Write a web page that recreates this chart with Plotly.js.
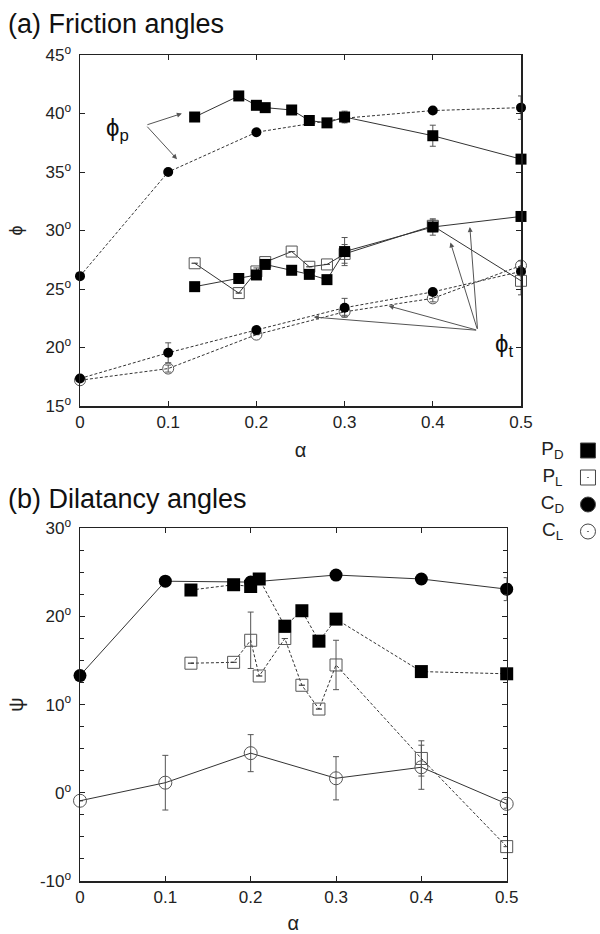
<!DOCTYPE html>
<html>
<head>
<meta charset="utf-8">
<script src="https://cdn.plot.ly/plotly-3.0.1.min.js"></script>
<style>html,body{margin:0;padding:0;background:#fff}#chart{width:600px;height:934px}</style>
</head>
<body>
<div id="chart"></div>
<script>
// ---- data ----
const alphaC = [0, 0.1, 0.2, 0.3, 0.4, 0.5];
const alphaP = [0.13, 0.18, 0.2, 0.21, 0.24, 0.26, 0.28, 0.3, 0.4, 0.5];
const alphaTicks = [0, 0.1, 0.2, 0.3, 0.4, 0.5];
const alphaTickText = ['0', '0.1', '0.2', '0.3', '0.4', '0.5'];

// (a) friction angles
const phiP_PD = [39.7, 41.5, 40.7, 40.5, 40.3, 39.4, 39.2, 39.7, 38.1, 36.1];
const phiP_PD_err = [0, 0, 0.3, 0, 0, 0, 0, 0.5, 0.9, 0];
const phiP_CD = [26.1, 35.0, 38.4, 39.6, 40.25, 40.5];
const phiP_CD_err = [0, 0, 0, 0, 0, 1.0];
const phiT_PD = [25.2, 25.9, 26.2, 27.1, 26.6, 26.25, 25.8, 28.2, 30.3, 31.2];
const phiT_PD_err = [0, 0, 0, 0, 0, 0, 0, 1.2, 0.7, 0];
const phiT_PL = [27.2, 24.65, 26.5, 27.3, 28.2, 26.9, 27.1, 28.0, 30.4, 25.7];
const phiT_PL_err = [0, 0, 0.3, 0, 0, 0, 0, 0.8, 0.5, 1.2];
const phiT_CD = [17.35, 19.55, 21.5, 23.4, 24.75, 26.5];
const phiT_CD_err = [0, 0.85, 0, 0.8, 0, 0];
const phiT_CL = [17.2, 18.2, 21.1, 23.05, 24.2, 27.0];
const phiT_CL_err = [0, 0.3, 0, 0.3, 0.3, 0.4];
const phiTicks = [15, 20, 25, 30, 35, 40, 45];
const phiTickText = ['15<sup>o</sup>', '20<sup>o</sup>', '25<sup>o</sup>', '30<sup>o</sup>', '35<sup>o</sup>', '40<sup>o</sup>', '45<sup>o</sup>'];

// (b) dilatancy angles
const psi_CD = [13.3, 24.0, 23.9, 24.7, 24.25, 23.1];
const psi_CD_err = [0, 0, 0, 0, 0, 1.3];
const psi_PD = [23.0, 23.6, 23.4, 24.25, 18.9, 20.65, 17.2, 19.7, 13.75, 13.5];
const psi_PL = [14.7, 14.8, 17.3, 13.25, 17.5, 12.2, 9.5, 14.5, 3.9, -6.1];
const psi_PL_err = [0, 0, 3.2, 0, 0, 0, 0, 2.8, 2.0, 0];
const psi_CL = [-0.9, 1.15, 4.5, 1.65, 2.9, -1.25];
const psi_CL_err = [0, 3.1, 2.1, 2.45, 2.5, 0.5];
const psiTicks = [-10, 0, 10, 20, 30];
const psiTickText = ['-10<sup>o</sup>', '0<sup>o</sup>', '10<sup>o</sup>', '20<sup>o</sup>', '30<sup>o</sup>'];

// legend
const legendLabels = ['P<sub>D</sub>', 'P<sub>L</sub>', 'C<sub>D</sub>', 'C<sub>L</sub>'];
const legendSymbols = ['square', 'square-open-dot', 'circle', 'circle-open-dot'];
const legendRows = [4, 3, 2, 1];

// ---- styles ----
const FONT = 'Liberation Sans, Arial, Helvetica, sans-serif';
const LINE = '#333';
const OPEN = '#555';
function errs(a) { return {type: 'data', array: a, visible: true, color: '#555', thickness: 1, width: 3}; }
function tr(x, y, e, opts) {
  return Object.assign({
    x: x, y: y, type: 'scatter', mode: 'lines+markers', cliponaxis: false, showlegend: false,
    error_y: errs(e), hoverinfo: 'skip'
  }, opts);
}
const solid = {color: LINE, width: 1};
const dashed = {color: LINE, width: 1, dash: '3px,2px'};

const traces = [
  // (a)
  tr(alphaC, phiP_CD, phiP_CD_err, {line: dashed, marker: {symbol: 'circle', size: 10, color: '#000'}}),
  tr(alphaP, phiP_PD, phiP_PD_err, {line: solid, marker: {symbol: 'square', size: 11, color: '#000'}}),
  tr(alphaC, phiT_CL, phiT_CL_err, {line: dashed, marker: {symbol: 'circle-open', size: 11, color: OPEN, line: {width: 1}}}),
  tr(alphaC, phiT_CD, phiT_CD_err, {line: dashed, marker: {symbol: 'circle', size: 10, color: '#000'}}),
  tr(alphaP, phiT_PL, phiT_PL_err, {line: solid, marker: {symbol: 'square-open', size: 11, color: OPEN, line: {width: 1}}}),
  tr(alphaP, phiT_PD, phiT_PD_err, {line: solid, marker: {symbol: 'square', size: 11, color: '#000'}}),
  // (b)
  Object.assign(tr(alphaC, psi_CL, psi_CL_err, {line: solid, marker: {symbol: 'circle-open', size: 13, color: OPEN, line: {width: 1}}}), {xaxis: 'x2', yaxis: 'y2'}),
  Object.assign(tr(alphaP, psi_PL, psi_PL_err, {line: dashed, marker: {symbol: 'square-open', size: 12, color: OPEN, line: {width: 1}}}), {xaxis: 'x2', yaxis: 'y2'}),
  Object.assign(tr(alphaC, psi_CD, psi_CD_err, {line: solid, marker: {symbol: 'circle', size: 13, color: '#000'}}), {xaxis: 'x2', yaxis: 'y2'}),
  Object.assign(tr(alphaP, psi_PD, psi_PD.map(() => 0), {line: dashed, marker: {symbol: 'square', size: 13, color: '#000'}}), {xaxis: 'x2', yaxis: 'y2'}),
  // legend
  {x: legendRows.map(() => 0.833), y: legendRows, type: 'scatter', mode: 'markers', xaxis: 'x3', yaxis: 'y3', showlegend: false, hoverinfo: 'skip', cliponaxis: false,
   marker: {symbol: legendSymbols, size: 15, color: ['#000', '#444', '#000', '#444'], line: {width: 1, color: '#444'}}},
  {x: legendRows.map(() => 0.34), y: legendRows, type: 'scatter', mode: 'text', text: legendLabels, textposition: 'middle center', xaxis: 'x3', yaxis: 'y3', showlegend: false, hoverinfo: 'skip', cliponaxis: false,
   textfont: {family: FONT, size: 19, color: '#222'}}
];

function xax(domain, anchor) {
  return {domain: domain, anchor: anchor, range: [0, 0.5], tickvals: alphaTicks, ticktext: alphaTickText,
    ticks: 'inside', ticklen: 5, tickcolor: '#222', mirror: 'allticks', showline: true, linewidth: 1.5, linecolor: '#222',
    showgrid: false, zeroline: false, tickfont: {family: FONT, size: 17, color: '#222'},
    title: {text: 'α', font: {family: FONT, size: 20, color: '#222'}, standoff: 12}};
}
function yTickFont() { return {family: FONT, size: 17, color: '#222'}; }
const layout = {
  width: 600, height: 934, margin: {l: 0, r: 0, t: 0, b: 0}, paper_bgcolor: '#fff', plot_bgcolor: 'rgba(0,0,0,0)',
  showlegend: false, font: {family: FONT, color: '#222'},
  xaxis: xax([80 / 600, 521 / 600], 'y'),
  yaxis: {domain: [1 - 406 / 934, 1 - 55 / 934], anchor: 'x', range: [15, 45], tickvals: phiTicks, ticktext: phiTickText,
    ticks: 'inside', ticklen: 5, tickcolor: '#222', mirror: 'allticks', showline: true, linewidth: 1.5, linecolor: '#222',
    showgrid: false, zeroline: false, tickfont: yTickFont(), ticklabelstandoff: 4,
    title: {text: 'ϕ', font: {family: FONT, size: 18, color: '#222'}, standoff: 18}},
  xaxis2: xax([80 / 600, 506.7 / 600], 'y2'),
  yaxis2: {domain: [1 - 881 / 934, 1 - 528.3 / 934], anchor: 'x2', range: [-10, 30], tickvals: psiTicks, ticktext: psiTickText,
    ticks: 'inside', ticklen: 5, tickcolor: '#222', mirror: 'allticks', showline: true, linewidth: 1.5, linecolor: '#222',
    minor: {dtick: 2.5, ticks: 'inside', ticklen: 4, tickcolor: '#222'},
    showgrid: false, zeroline: false, tickfont: yTickFont(), ticklabelstandoff: 4,
    title: {text: 'ψ', font: {family: FONT, size: 20, color: '#222'}, standoff: 11}},
  xaxis3: {domain: [528 / 600, 1], anchor: 'y3', range: [0, 1], visible: false, fixedrange: true},
  yaxis3: {domain: [1 - 545 / 934, 1 - 437 / 934], anchor: 'x3', range: [0.5, 4.5], visible: false, fixedrange: true},
  annotations: [
    {xref: 'paper', yref: 'paper', x: 6 / 600, y: 1 - 24 / 934, xanchor: 'left', yanchor: 'middle', showarrow: false,
     text: '(a) Friction angles', font: {family: FONT, size: 27, color: '#111'}},
    {xref: 'paper', yref: 'paper', x: 6 / 600, y: 1 - 499 / 934, xanchor: 'left', yanchor: 'middle', showarrow: false,
     text: '(b) Dilatancy angles', font: {family: FONT, size: 27, color: '#111'}},
    {xref: 'x', yref: 'y', x: 0.043, y: 38.6, showarrow: false, text: 'ϕ<sub>p</sub>', font: {family: FONT, size: 24, color: '#111'}},
    {xref: 'x', yref: 'y', x: 0.1155, y: 40.0, axref: 'x', ayref: 'y', ax: 0.0747, ay: 39.0, text: '', showarrow: true, arrowhead: 2, arrowsize: 1, arrowwidth: 1, arrowcolor: '#555'},
    {xref: 'x', yref: 'y', x: 0.110, y: 36.1, axref: 'x', ayref: 'y', ax: 0.0747, ay: 39.0, text: '', showarrow: true, arrowhead: 2, arrowsize: 1, arrowwidth: 1, arrowcolor: '#555'},
    {xref: 'x', yref: 'y', x: 0.481, y: 20.2, showarrow: false, text: 'ϕ<sub>t</sub>', font: {family: FONT, size: 24, color: '#111'}},
    {xref: 'x', yref: 'y', x: 0.265, y: 22.6, axref: 'x', ayref: 'y', ax: 0.4508, ay: 21.47, text: '', showarrow: true, arrowhead: 2, arrowsize: 1, arrowwidth: 1, arrowcolor: '#555'},
    {xref: 'x', yref: 'y', x: 0.350, y: 23.55, axref: 'x', ayref: 'y', ax: 0.4508, ay: 21.47, text: '', showarrow: true, arrowhead: 2, arrowsize: 1, arrowwidth: 1, arrowcolor: '#555'},
    {xref: 'x', yref: 'y', x: 0.420, y: 28.98, axref: 'x', ayref: 'y', ax: 0.4508, ay: 21.47, text: '', showarrow: true, arrowhead: 2, arrowsize: 1, arrowwidth: 1, arrowcolor: '#555'},
    {xref: 'x', yref: 'y', x: 0.442, y: 30.3, axref: 'x', ayref: 'y', ax: 0.4508, ay: 21.47, text: '', showarrow: true, arrowhead: 2, arrowsize: 1, arrowwidth: 1, arrowcolor: '#555'}
  ]
};
Plotly.newPlot('chart', traces, layout, {staticPlot: true, displayModeBar: false});
</script>
</body>
</html>
